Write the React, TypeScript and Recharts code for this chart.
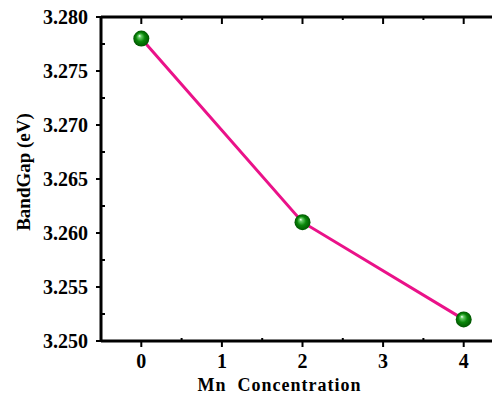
import { LineChart, Line, XAxis, YAxis } from "recharts";

const mnConcentration = [0, 2, 4];
const bandGap = [3.278, 3.261, 3.252];

const xMajorTicks = [0, 1, 2, 3, 4];
const xMinorTicks = [0.5, 1.5, 2.5, 3.5];
const yMajorTicks = [3.25, 3.255, 3.26, 3.265, 3.27, 3.275, 3.28];
const yMinorTicks = [3.2525, 3.2575, 3.2625, 3.2675, 3.2725, 3.2775];

const xDomain = [-0.5, 4.5];
const yDomain = [3.25, 3.28];

const data = mnConcentration.map((x, i) => ({ x, gap: bandGap[i] }));

const FONT = "'Liberation Serif', 'Times New Roman', serif";
const LABEL_SIZE = 20;
const axisLine = { stroke: "#000", strokeWidth: 3 };

const CHART_W = 492;
const CHART_H = 387;
const MARGIN = { top: 9, right: -4, left: 0, bottom: 0 };
const Y_AXIS_W = 93;
const X_AXIS_H = 54;
// plot box size, used to mirror the ticks onto the top and right frame
const PLOT_W = CHART_W - MARGIN.left - MARGIN.right - Y_AXIS_W;
const PLOT_H = CHART_H - MARGIN.top - MARGIN.bottom - X_AXIS_H;

const isMinorX = (v: number) => xMinorTicks.includes(v);
const isMinorY = (v: number) => yMinorTicks.includes(v);

// tickSize/tickMargin are 0, so (x, y) is where the tick meets the axis line
const BottomTick = (props: any) => {
  const { x, y, payload } = props;
  const v = payload.value;
  const topY = y - PLOT_H;
  if (isMinorX(v)) {
    return (
      <g>
        <line x1={x} x2={x} y1={y} y2={y - 3} stroke="#000" strokeWidth={2} />
        <line x1={x} x2={x} y1={topY} y2={topY + 3} stroke="#000" strokeWidth={2} />
      </g>
    );
  }
  return (
    <g>
      <line x1={x} x2={x} y1={y} y2={y + 6} stroke="#000" strokeWidth={2} />
      <line x1={x} x2={x} y1={topY} y2={topY + 7} stroke="#000" strokeWidth={2} />
      <text
        x={x}
        y={y + 13}
        dy="0.71em"
        textAnchor="middle"
        fontFamily={FONT}
        fontWeight="bold"
        fontSize={LABEL_SIZE}
        fill="#000"
      >
        {v}
      </text>
    </g>
  );
};

const LeftTick = (props: any) => {
  const { x, y, payload } = props;
  const v = payload.value;
  const rightX = x + PLOT_W;
  if (isMinorY(v)) {
    return (
      <g>
        <line x1={x} x2={x + 4} y1={y} y2={y} stroke="#000" strokeWidth={2} />
        <line x1={rightX} x2={rightX - 3} y1={y} y2={y} stroke="#000" strokeWidth={2} />
      </g>
    );
  }
  return (
    <g>
      <line x1={x} x2={x - 5} y1={y} y2={y} stroke="#000" strokeWidth={2} />
      <line x1={rightX} x2={rightX - 7} y1={y} y2={y} stroke="#000" strokeWidth={2} />
      <text
        x={x - 13}
        y={y}
        dy="0.355em"
        textAnchor="end"
        fontFamily={FONT}
        fontWeight="bold"
        fontSize={LABEL_SIZE}
        fill="#000"
      >
        {v.toFixed(3)}
      </text>
    </g>
  );
};

const Ball = (props: any) => {
  const { cx, cy, index } = props;
  const id = `ball-${index}`;
  return (
    <g key={id}>
      <defs>
        <radialGradient id={id} cx="50%" cy="50%" r="50%" fx="38%" fy="32%">
          <stop offset="0%" stopColor="#ffffff" />
          <stop offset="20%" stopColor="#66cc66" />
          <stop offset="55%" stopColor="#0a870a" />
          <stop offset="100%" stopColor="#005500" />
        </radialGradient>
      </defs>
      <circle cx={cx} cy={cy} r={8} fill={`url(#${id})`} />
    </g>
  );
};

const yTitle = (props: any) => {
  const { viewBox } = props;
  const cx = viewBox.x + 22;
  const cy = viewBox.y + viewBox.height / 2 - 7;
  return (
    <text
      x={cx}
      y={cy}
      transform={`rotate(-90 ${cx} ${cy})`}
      textAnchor="middle"
      fontFamily={FONT}
      fontWeight="bold"
      fontSize={19}
      fill="#000"
    >
      BandGap (eV)
    </text>
  );
};

// x title; the top and right frame lines are drawn here too, from the axis box
const xTitle = (props: any) => {
  const { viewBox } = props;
  const left = viewBox.x;
  const bottom = viewBox.y;
  const right = left + viewBox.width;
  const top = bottom - PLOT_H;
  const cx = left + viewBox.width / 2 - 23;
  const cy = bottom + 50;
  return (
    <g>
      <line x1={left} x2={right} y1={top} y2={top} {...axisLine} />
      <line x1={right} x2={right} y1={top} y2={bottom} {...axisLine} />
      <text
        x={cx}
        y={cy}
        textAnchor="middle"
        fontFamily={FONT}
        fontWeight="bold"
        fontSize={18}
        letterSpacing={1}
        fill="#000"
        style={{ whiteSpace: "pre" }}
      >
        {"Mn  Concentration"}
      </text>
    </g>
  );
};

export default function App() {
  return (
    <div style={{ width: CHART_W, height: CHART_H }}>
      <LineChart width={CHART_W} height={CHART_H} data={data} margin={MARGIN}>
        <XAxis
          xAxisId="main"
          dataKey="x"
          type="number"
          domain={xDomain}
          ticks={[...xMajorTicks, ...xMinorTicks]}
          interval={0}
          height={X_AXIS_H}
          axisLine={axisLine}
          tickLine={false}
          tickSize={0}
          tickMargin={0}
          tick={BottomTick}
          label={{ content: xTitle }}
        />
        <YAxis
          yAxisId="main"
          type="number"
          domain={yDomain}
          ticks={[...yMajorTicks, ...yMinorTicks]}
          interval={0}
          width={Y_AXIS_W}
          axisLine={axisLine}
          tickLine={false}
          tickSize={0}
          tickMargin={0}
          tick={LeftTick}
          label={{ content: yTitle }}
        />
        <Line
          xAxisId="main"
          yAxisId="main"
          dataKey="gap"
          stroke="#ea1289"
          strokeWidth={3}
          dot={Ball}
          activeDot={false}
          isAnimationActive={false}
        />
      </LineChart>
    </div>
  );
}
